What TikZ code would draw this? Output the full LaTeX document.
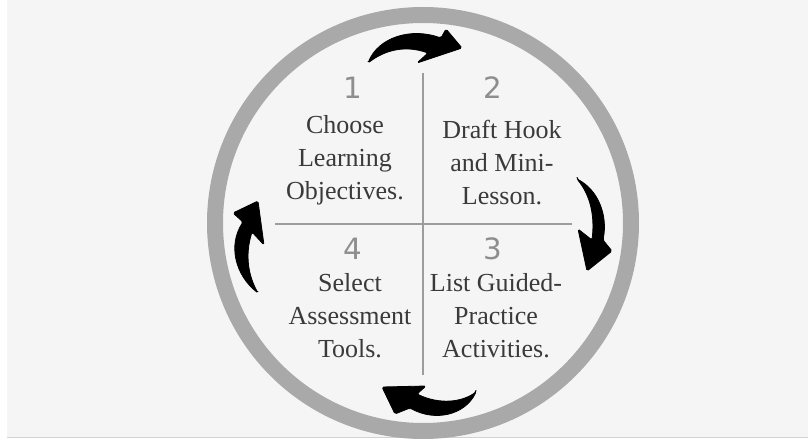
\documentclass[tikz,border=0pt]{standalone}
\usepackage{fontspec}
\setmainfont{Liberation Serif}
\newfontfamily\digitfont{DejaVu Sans}
\definecolor{bgc}{HTML}{F5F5F5}
\definecolor{ringc}{HTML}{A9A9A9}
\definecolor{crossc}{HTML}{9C9C9C}
\definecolor{txtc}{HTML}{3A3A3A}
\definecolor{digc}{HTML}{8E8E8E}
\tikzset{
  x=0.75pt, y=-0.75pt,
  steptext/.style={align=center, text=txtc, font=\fontsize{19.5}{24.75}\selectfont, inner sep=0pt},
  stepnum/.style={text=digc, font=\digitfont\fontsize{22}{24}\selectfont, inner sep=0pt},
  brush/.style={fill=black, draw=black, line width=0.6pt, line join=round, rounded corners=1.2pt},
}
\begin{document}
\begin{tikzpicture}
\useasboundingbox (0,0) rectangle (808,445);
\fill[white] (0,0) rectangle (808,445);
\fill[bgc] (7,0) rectangle (808,437);
\draw[gray!35, line width=1pt] (7,437.5) -- (808,437.5);
% ring
\draw[ringc, line width=12pt] (423,223) circle[radius=208*0.75pt];
% cross
\draw[crossc, line width=1.5pt] (423,73) -- (423,375);
\draw[crossc, line width=1.5pt] (275,224) -- (572,224);
% digits
\node[stepnum] (n1) at (353,88) {1};
\node[stepnum] (n2) at (493,88) {2};
\node[stepnum] (n4) at (353,249) {4};
\node[stepnum] (n3) at (493,249) {3};
% texts
\node[steptext] (t1) at (345,160) {Choose\\Learning\\Objectives.};
\node[steptext] (t2) at (502,163) {Draft Hook\\and Mini-\\Lesson.};
\node[steptext] (t4) at (350,316) {Select\\Assessment\\Tools.};
\node[steptext] (t3) at (496,316) {List Guided-\\Practice\\Activities.};
% arrows
\fill[brush] (368,63) .. controls (378,38) and (410,27) .. (441,38) -- (446,29) -- (462,48) -- (417,63) -- (428,53) .. controls (405,45) and (385,50) .. (368,63) -- cycle;
\fill[brush] (577,179) .. controls (598,190) and (608,215) .. (603,240) -- (612,251) -- (587,271) -- (578,229) -- (592,240) .. controls (595,215) and (590,195) .. (577,179) -- cycle;
\fill[brush] (476,392) .. controls (465,415) and (435,422) .. (410,408) -- (395,414) -- (382,387) -- (426,386) -- (417,394) .. controls (440,405) and (462,402) .. (476,392) -- cycle;
\fill[brush] (258,293) .. controls (235,275) and (228,245) .. (243,222) -- (233,213) -- (258,201) -- (264,245) -- (252,232) .. controls (245,255) and (248,275) .. (258,293) -- cycle;
\end{tikzpicture}
\end{document}
